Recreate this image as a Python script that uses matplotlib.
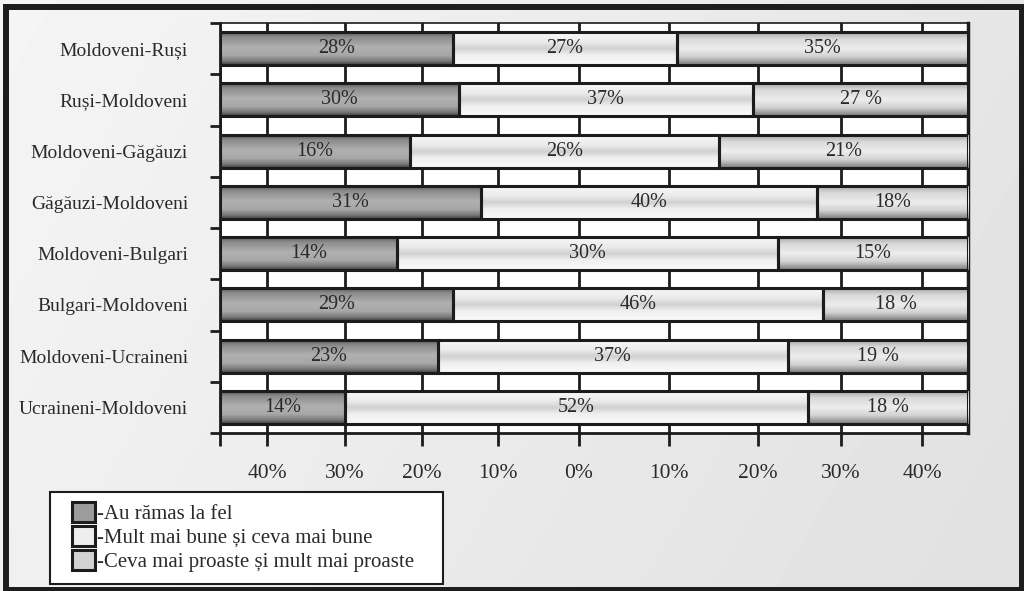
import numpy as np
import matplotlib.pyplot as plt
from matplotlib.patches import Patch, Rectangle

# Date: perechi de grupuri etnice si ponderile raspunsurilor (%)
categorii = ["Moldoveni-Ruși", "Ruși-Moldoveni", "Moldoveni-Găgăuzi", "Găgăuzi-Moldoveni",
             "Moldoveni-Bulgari", "Bulgari-Moldoveni", "Moldoveni-Ucraineni", "Ucraineni-Moldoveni"]
la_fel = [28, 30, 16, 31, 14, 29, 23, 14]
mai_bune = [27, 37, 26, 40, 30, 46, 37, 52]
mai_proaste = [35, 27, 21, 18, 15, 18, 19, 18]
sep_proaste = ["", " ", "", "", "", " ", " ", " "]

serii = ["Au rămas la fel", "Mult mai bune și ceva mai bune",
         "Ceva mai proaste și mult mai proaste"]

# axa de jos: pozitiile liniilor de grila si etichetele lor
pozitii_grila = [6.3, 16.7, 27.0, 37.2, 48.0, 60.0, 71.9, 83.0, 93.9]
etichete_x = ["40%", "30%", "20%", "10%", "0%", "10%", "20%", "30%", "40%"]

# profile de gradient (sus -> jos) pentru fiecare serie
profile = [
    ([0, 0.15, 0.45, 0.7, 0.88, 1], [0.36, 0.55, 0.69, 0.66, 0.48, 0.25]),
    ([0, 0.3, 0.5, 0.7, 1], [0.97, 0.92, 0.82, 0.94, 0.98]),
    ([0, 0.2, 0.5, 0.75, 1], [0.66, 0.85, 0.93, 0.82, 0.48]),
]
culori_legenda = ["#9c9c9c", "#eeeeee", "#d2d2d2"]
negru = "#1c1c1c"
text_col = "#2a2a2a"

plt.rcParams['font.family'] = ['Liberation Serif', 'DejaVu Serif']

fig = plt.figure(figsize=(10.24, 5.91), dpi=100, facecolor='white')

# fundal gri cu gradient usor
bg = fig.add_axes([0, 0, 1, 1], zorder=-10)
bg.axis('off')
X, Y = np.meshgrid(np.linspace(0, 1, 300), np.linspace(0, 1, 150))
fundal = 0.96 - 0.06 * X - 0.02 * Y
bg.imshow(fundal, cmap='gray', vmin=0, vmax=1, extent=(0, 1, 0, 1), aspect='auto')
bg.set_xlim(0, 1)
bg.set_ylim(0, 1)

# chenar exterior
fig.patches.append(Rectangle((6 / 1024, 1 - 590 / 591), 1016 / 1024, 583.5 / 591,
                             transform=fig.transFigure, fill=False, lw=4.3, ec=negru))

ax = fig.add_axes([220 / 1024, 1 - 433 / 591, 748 / 1024, 410 / 591])
ax.set_facecolor('white')

y = np.arange(len(categorii))
tot = np.array(la_fel) + np.array(mai_bune) + np.array(mai_proaste)
valori = [la_fel, mai_bune, mai_proaste]

stanga = np.zeros(len(categorii))
for i, v in enumerate(valori):
    v = np.array(v)
    w = 100 * v / tot
    bare = ax.barh(y, w, left=stanga, height=0.64, facecolor='none',
                   edgecolor=negru, linewidth=2.2, zorder=4)
    t, g = profile[i]
    grad = np.interp(np.linspace(0, 1, 64), t, g)
    img = np.repeat(grad[:, None], 3, axis=1)[:, None, :] * np.ones((1, 2, 1))
    for p in bare.patches:
        x0, y0 = p.get_x(), p.get_y()
        ax.imshow(img, extent=(x0, x0 + p.get_width(), y0 + p.get_height(), y0),
                  origin='upper', aspect='auto', zorder=3, interpolation='bilinear')
    if i == 2:
        etich = [f"{a}{s}%" for a, s in zip(v, sep_proaste)]
    else:
        etich = [f"{a}%" for a in v]
    ax.bar_label(bare, labels=etich, label_type='center', fontsize=14.5, color=text_col)
    stanga = stanga + w

ax.set_xlim(0, 100)
ax.set_ylim(len(categorii) - 0.5, -0.5)

ax.set_xticks([0] + pozitii_grila, [""] + etichete_x)
ax.xaxis.grid(True, color=negru, lw=2)
ax.set_axisbelow(True)
ax.tick_params(axis='x', direction='out', length=9, width=2, pad=13,
               labelsize=15.5, color=negru, labelcolor=text_col)

ax.set_yticks(y, categorii)
ax.set_yticks(np.arange(-0.5, len(categorii)), minor=True)
ax.tick_params(axis='y', which='major', length=0, pad=23, labelsize=14, labelcolor=text_col)
ax.tick_params(axis='y', which='minor', direction='out', length=7, width=2, color=negru)

for nume, lw in [('left', 2), ('bottom', 2), ('right', 2.5), ('top', 1.2)]:
    ax.spines[nume].set_linewidth(lw)
    ax.spines[nume].set_color(negru)

# cadrul legendei
fig.patches.append(Rectangle((50 / 1024, 1 - 584 / 591), 393 / 1024, 92 / 591,
                             transform=fig.transFigure, fc='white', ec=negru, lw=1.5))

handles = [Patch(facecolor=c, edgecolor=negru, linewidth=2.2) for c in culori_legenda]
leg = fig.legend(handles, ["-" + s for s in serii], loc='upper left',
                 bbox_to_anchor=(72 / 1024, 1 - 502 / 591),
                 fontsize=15, frameon=False, borderaxespad=0, borderpad=0,
                 handlelength=1.1, handleheight=1.1, handletextpad=0.12,
                 labelspacing=0.08, labelcolor=text_col)

fig.savefig('out.png', dpi=100)
